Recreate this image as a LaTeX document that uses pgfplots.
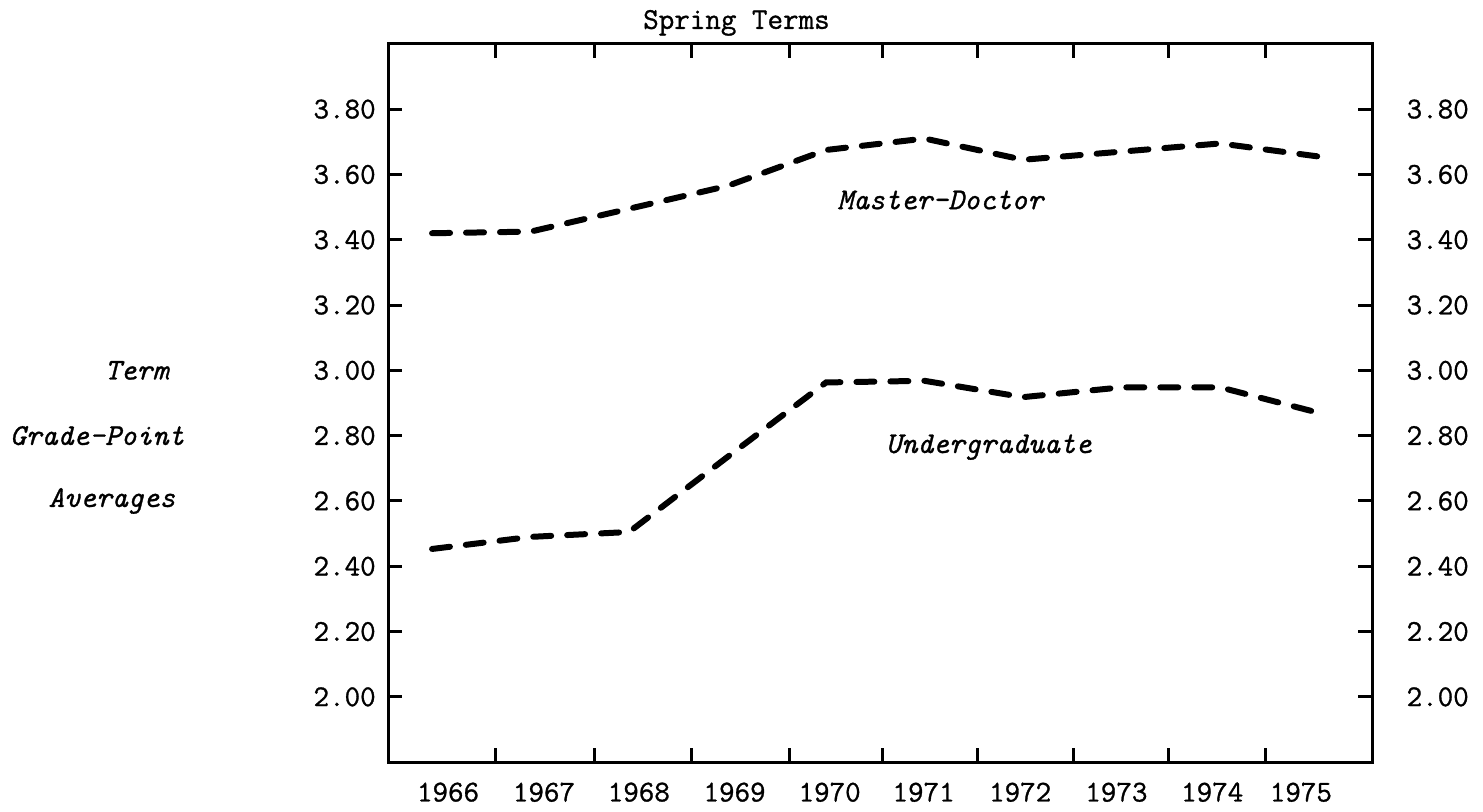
\documentclass[border=0pt]{standalone}
\usepackage{pgfplots}
\pgfplotsset{compat=1.18}
\usepackage{fontspec}
\setmonofont{Latin Modern Mono}[FakeBold=1.0]
\begin{document}
\ttfamily\fontsize{15.1}{17}\selectfont
\begin{tikzpicture}[font=\ttfamily\fontsize{15.1}{17}\selectfont]
\pgfplotsset{
  common/.style={
    scale only axis, width=492.5pt, height=359.5pt,
    xmin=1965.554, xmax=1975.544, ymin=1.8, ymax=4.0,
    axis line style={line width=1.5pt},
    tick style={line width=1.5pt, black},
    major tick length=7pt, minor tick length=7pt,
    tick align=inside,
    ytick={2.0,2.2,2.4,2.6,2.8,3.0,3.2,3.4,3.6,3.8},
    yticklabels={2.00,2.20,2.40,2.60,2.80,3.00,3.20,3.40,3.60,3.80},
    clip=false,
  }
}
\begin{axis}[common,
  xtick={1966.162,1967.136,1968.099,1969.071,1970.036,1970.99,1971.97,1972.947,1973.92,1974.82},
  xticklabels={1966,1967,1968,1969,1970,1971,1972,1973,1974,1975},
  major x tick style={draw=none},
  minor xtick={1966.639,1967.653,1968.637,1969.631,1970.574,1971.538,1972.511,1973.475,1974.458},
  minor x tick style={line width=1.5pt, black},
  xtick pos=both, xticklabel pos=bottom,
  xticklabel style={yshift=-5pt},
  ytick pos=both, yticklabel pos=left,
  yticklabel style={xshift=-1pt},
]
\addplot[black, line width=3pt, dash pattern=on 9pt off 8pt, line cap=round]
  coordinates {(1966,3.42) (1967,3.425) (1968,3.495) (1969,3.565) (1970,3.675)
               (1971,3.71) (1972,3.645) (1973,3.67) (1974,3.695) (1975,3.655)};
\addplot[black, line width=3pt, dash pattern=on 9pt off 8pt, line cap=round]
  coordinates {(1966,2.453) (1967,2.49) (1968,2.505) (1969,2.735) (1970,2.963)
               (1971,2.968) (1972,2.918) (1973,2.948) (1974,2.948) (1975,2.87)};
\node[anchor=base] at (axis cs:1969.09,4.046) {Spring Terms};
\node at (axis cs:1971.16,3.522) {\itshape Master-Doctor};
\node at (axis cs:1971.65,2.765) {\itshape Undergraduate};
\node at (axis cs:1963.0,3.0) {\itshape Term};
\node at (axis cs:1962.6,2.8) {\itshape Grade-Point};
\node at (axis cs:1962.75,2.6) {\itshape Averages};
\path (axis cs:1961.629,1.6623) rectangle (axis cs:1976.669,4.1224);
\end{axis}
\begin{axis}[common,
  hide x axis,
  ytick pos=right, yticklabel pos=right,
  yticklabel style={xshift=12pt},
]
\end{axis}
\end{tikzpicture}
\end{document}
